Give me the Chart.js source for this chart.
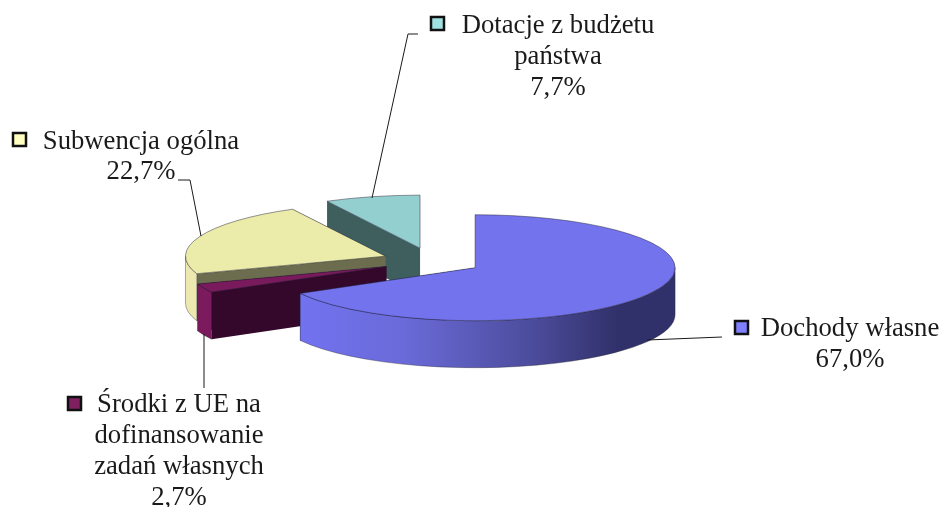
<!DOCTYPE html>
<html lang="pl">
<head>
<meta charset="utf-8">
<style>
html,body{margin:0;padding:0;background:#fff;width:944px;height:507px;overflow:hidden}
#wrap{width:944px;height:507px;position:relative}
</style>
<script src="https://cdn.jsdelivr.net/npm/chart.js@4"></script>
</head>
<body>
<div id="wrap"><canvas id="c" width="944" height="507"></canvas></div>
<script>
// --- data ---
const categories = ['Dochody własne', 'Środki z UE na dofinansowanie zadań własnych', 'Subwencja ogólna', 'Dotacje z budżetu państwa'];
const shares = [67.0, 2.7, 22.7, 7.7];
const labelLines = [
  ['Dochody własne'],
  ['Środki z UE na', 'dofinansowanie', 'zadań własnych'],
  ['Subwencja ogólna'],
  ['Dotacje z budżetu', 'państwa']
];
const sliceColors = ['#7373ee', '#781a5c', '#ebebaa', '#94cfcf'];
const wallColors = ['#34346e', '#33082a', '#6c6c4e', '#3f5e5e'];
const markerColors = ['#8080ff', '#802060', '#ffffc0', '#a0e0e0'];

// --- presentation ---
const squash = 0.265, depth = 47, explode = 50, radius = 200;
const pieCentre = {x: 432, y: 261};
const drawOrder = [3, 2, 1, 0];
const labelLayout = [
  {cx: 850, y: 329, lh: 31, marker: [735, 321]},
  {cx: 179, y: 405, lh: 31, marker: [68, 397]},
  {cx: 141, y: 142, lh: 30, marker: [13, 133]},
  {cx: 558, y: 26, lh: 31, marker: [431, 17]}
];
const leaders = [
  [[647, 340], [722, 337]],
  [[204, 334], [204, 388]],
  [[178, 180], [190, 180], [201, 236]],
  [[418, 34], [408, 34], [372, 198]]
];
const rimStops = [
  [[0, '#7272f0'], [0.28, '#6a6ad8'], [0.62, '#4c4c9c'], [0.85, '#30306a'], [1, '#30306a']],
  [[0, '#7c1a5e'], [1, '#7c1a5e']],
  [[0, '#ece8b0'], [1, '#e4e0a4']],
  [[0, '#94cfcf'], [1, '#94cfcf']]
];

function fmt(v){ return v.toFixed(1).replace('.', ',') + '%'; }

const pie3d = {
  id: 'pie3d',
  beforeDatasetsDraw(chart) {
    const ctx = chart.ctx;
    const arcs = chart.getDatasetMeta(0).data;
    drawOrder.forEach(i => {
      const arc = arcs[i];
      const a0 = arc.startAngle, a1 = arc.endAngle, mid = (a0 + a1) / 2, r = arc.outerRadius;
      const dx = Math.cos(mid) * explode, dy = Math.sin(mid) * explode * squash;
      const sx = arc.x + dx, sy = arc.y + dy;
      const px = a => sx + Math.cos(a) * r;
      const py = a => sy + Math.sin(a) * r * squash;

      // radial walls
      [a0, a1].forEach(a => {
        ctx.beginPath();
        ctx.moveTo(sx, sy);
        ctx.lineTo(px(a), py(a));
        ctx.lineTo(px(a), py(a) + depth);
        ctx.lineTo(sx, sy + depth);
        ctx.closePath();
        ctx.fillStyle = wallColors[i];
        ctx.fill();
      });
      // outer rim: only the part of the arc that faces the viewer
      const f0 = Math.max(a0, 0), f1 = Math.min(a1, Math.PI);
      if (f1 > f0) {
        const g = ctx.createLinearGradient(sx - Math.abs(Math.cos(a1)) * r, 0, sx + r, 0);
        rimStops[i].forEach(s => g.addColorStop(s[0], s[1]));
        ctx.beginPath();
        ctx.ellipse(sx, sy, r, r * squash, 0, f0, f1);
        ctx.ellipse(sx, sy + depth, r, r * squash, 0, f1, f0, true);
        ctx.closePath();
        ctx.fillStyle = g;
        ctx.fill();
        ctx.lineWidth = 0.7;
        ctx.strokeStyle = 'rgba(40,40,50,0.55)';
        ctx.stroke();
      }

      // top face: the library's arc element, moved out and flattened
      ctx.save();
      ctx.translate(sx, sy);
      ctx.scale(1, squash);
      ctx.translate(-arc.x, -arc.y);
      arc.draw(ctx);
      ctx.restore();
    });
    return false;
  },
  afterDraw(chart) {
    const ctx = chart.ctx;
    ctx.save();
    ctx.strokeStyle = '#1a1a1a';
    ctx.lineWidth = 1;
    leaders.forEach(pts => {
      ctx.beginPath();
      pts.forEach((p, k) => k ? ctx.lineTo(p[0], p[1]) : ctx.moveTo(p[0], p[1]));
      ctx.stroke();
    });
    ctx.font = '26.7px "Liberation Serif"';
    ctx.textAlign = 'center';
    ctx.textBaseline = 'middle';
    labelLines.forEach((lines, i) => {
      const L = labelLayout[i];
      ctx.fillStyle = '#1a1a1a';
      [...lines, fmt(shares[i])].forEach((t, k) => ctx.fillText(t, L.cx, L.y + k * L.lh));
      ctx.fillStyle = markerColors[i];
      ctx.fillRect(L.marker[0], L.marker[1], 13, 13);
      ctx.lineWidth = 2.5;
      ctx.strokeStyle = '#111';
      ctx.strokeRect(L.marker[0], L.marker[1], 13, 13);
    });
    ctx.restore();
  }
};

new Chart(document.getElementById('c'), {
  type: 'pie',
  data: {
    labels: categories,
    datasets: [{
      data: shares,
      backgroundColor: sliceColors,
      borderColor: 'rgba(30,30,50,0.75)',
      borderWidth: 1,
      borderAlign: 'center'
    }]
  },
  options: {
    responsive: false,
    animation: false,
    radius: radius,
    layout: {padding: {top: 2 * pieCentre.y - 507, right: 944 - 2 * pieCentre.x, left: 0, bottom: 0}},
    plugins: {legend: {display: false}, tooltip: {enabled: false}}
  },
  plugins: [pie3d]
});
</script>
</body>
</html>
